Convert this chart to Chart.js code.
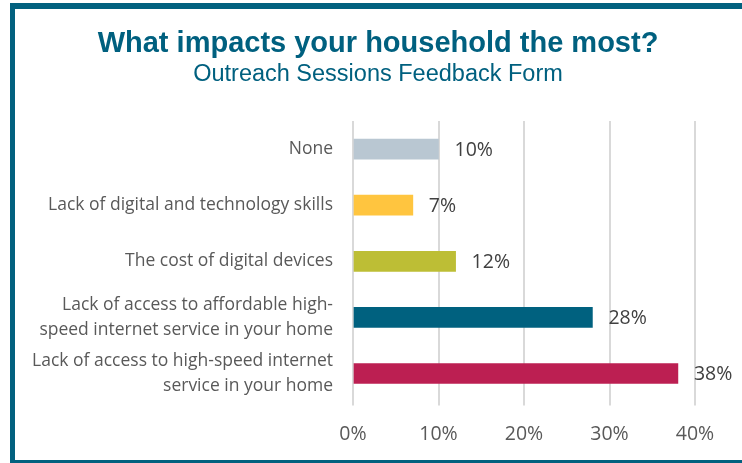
<!DOCTYPE html>
<html>
<head>
<meta charset="utf-8">
<script src="https://cdn.jsdelivr.net/npm/chart.js@4.4.1/dist/chart.umd.min.js"></script>
<style>
    html, body { margin: 0; padding: 0; background: #ffffff; }
    #wrap { position: relative; width: 742px; height: 463px; overflow: hidden; }
    #frame {
        position: absolute; left: 10px; top: 3px; width: 760px; height: 451px;
        border-left: 5px solid #02617F; border-top: 6px solid #02617F; border-bottom: 3px solid #02617F;
        pointer-events: none;
    }
    canvas { position: absolute; left: 0; top: 0; }
    .head {
        position: absolute; left: 15px; width: 726px; text-align: center;
        color: #00607F; font-family: 'Liberation Sans', Arial, sans-serif; white-space: nowrap;
    }
    #title { top: 25px; font-size: 29px; line-height: 34px; font-weight: bold; }
    #subtitle { top: 60px; font-size: 23.5px; line-height: 27px; }
</style>
</head>
<body>
<div id="wrap">
    <canvas id="barChart" width="742" height="463"></canvas>
    <div id="title" class="head">What impacts your household the most?</div>
    <div id="subtitle" class="head">Outreach Sessions Feedback Form</div>
    <div id="frame"></div>
</div>
<script>
/* Survey results - horizontal bar chart */

const CATEGORIES = [
    'None',
    'Lack of digital and technology skills',
    'The cost of digital devices',
    ['Lack of access to affordable high-', 'speed internet service in your home'],
    ['Lack of access to high-speed internet', 'service in your home']
];
const VALUES = [10, 7, 12, 28, 38];
const BAR_COLORS = ['#B9C7D2', '#FFC53F', '#BDBE35', '#00617F', '#BC1F52'];
const X_TICKS = [0, 10, 20, 30, 40];

const SMALL_FONT = "'Open Sans', Lato, sans-serif";

// Value labels to the right of each bar
const valueLabels = {
    id: 'valueLabels',
    afterDatasetsDraw(chart) {
        const ctx = chart.ctx;
        const meta = chart.getDatasetMeta(0);
        ctx.save();
        ctx.font = '19.5px ' + SMALL_FONT;
        ctx.fillStyle = '#404040';
        ctx.textAlign = 'left';
        ctx.textBaseline = 'middle';
        meta.data.forEach((bar, i) => {
            ctx.fillText(VALUES[i] + '%', bar.x + 16, bar.y + 1);
        });
        ctx.restore();
    }
};

const ctx = document.getElementById('barChart');

new Chart(ctx, {
    type: 'bar',
    data: {
        labels: CATEGORIES,
        datasets: [{
            data: VALUES,
            backgroundColor: BAR_COLORS,
            borderWidth: 0,
            barThickness: 20
        }]
    },
    plugins: [valueLabels],
    options: {
        indexAxis: 'y',
        responsive: false,
        animation: false,
        layout: {
            padding: { left: 15, top: 121, right: 47, bottom: 0 }
        },
        plugins: {
            legend: { display: false },
            tooltip: { enabled: false }
        },
        scales: {
            x: {
                min: 0,
                max: 40,
                afterBuildTicks(scale) {
                    scale.ticks = X_TICKS.map(v => ({ value: v }));
                },
                ticks: {
                    callback: v => v + '%',
                    color: '#595959',
                    font: { family: SMALL_FONT, size: 19.5 },
                    padding: 17
                },
                grid: {
                    color: '#D9D9D9',
                    lineWidth: 2,
                    tickLength: 4
                },
                border: { display: false }
            },
            y: {
                afterFit(scale) { scale.width = 338; },
                ticks: {
                    color: '#595959',
                    font: { family: SMALL_FONT, size: 17.5, lineHeight: 1.43 },
                    padding: 12
                },
                grid: { display: false },
                border: { display: false }
            }
        }
    }
});
</script>
</body>
</html>
